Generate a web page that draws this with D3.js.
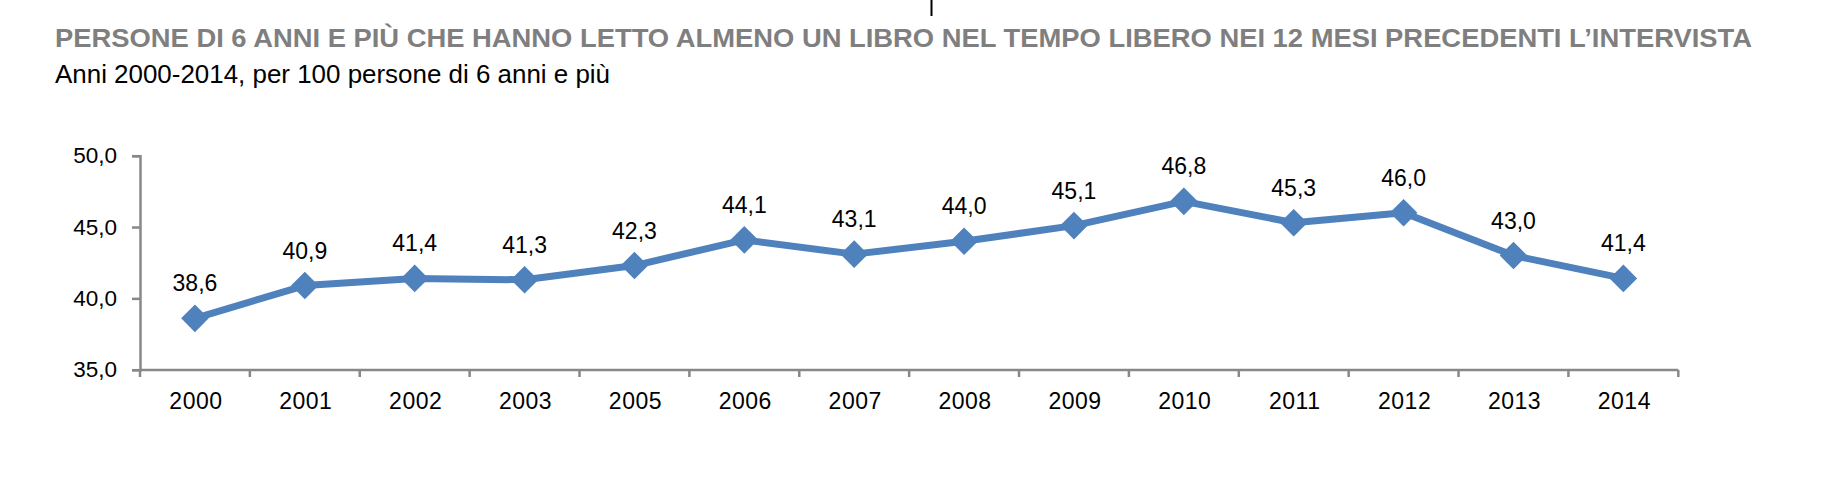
<!DOCTYPE html>
<html>
<head>
<meta charset="utf-8">
<script src="https://cdn.jsdelivr.net/npm/d3@7"></script>
<style>
  html, body { margin: 0; padding: 0; background: #fff; }
  svg { display: block; }
</style>
</head>
<body>
<svg id="chart" width="1838" height="504"></svg>
<script>
const title = "PERSONE DI 6 ANNI E PIÙ CHE HANNO LETTO ALMENO UN LIBRO NEL TEMPO LIBERO NEI 12 MESI PRECEDENTI L\u2019INTERVISTA";
const subtitle = "Anni 2000-2014, per 100 persone di 6 anni e più";
const years = ["2000","2001","2002","2003","2005","2006","2007","2008","2009","2010","2011","2012","2013","2014"];
const values = [38.6, 40.9, 41.4, 41.3, 42.3, 44.1, 43.1, 44.0, 45.1, 46.8, 45.3, 46.0, 43.0, 41.4];
const yTicks = [35, 40, 45, 50];

const fmt = v => v.toFixed(1).replace(".", ",");
const svg = d3.select("#chart");
const numFont = "'Liberation Sans', Arial, Helvetica, sans-serif";
const narrowFont = "'Liberation Sans Narrow', 'Arial Narrow', 'Liberation Sans', Arial, sans-serif";

// Titles
svg.append("text")
  .attr("x", 55).attr("y", 46.7)
  .attr("font-family", narrowFont)
  .attr("font-weight", "bold")
  .attr("font-size", 26)
  .attr("fill", "#7f7f7f")
  .attr("textLength", 1697)
  .attr("lengthAdjust", "spacingAndGlyphs")
  .text(title);

svg.append("text")
  .attr("x", 55).attr("y", 83.3)
  .attr("font-family", narrowFont)
  .attr("font-size", 25.5)
  .attr("fill", "#000")
  .attr("textLength", 555)
  .attr("lengthAdjust", "spacingAndGlyphs")
  .text(subtitle);

// small mark at top
svg.append("line")
  .attr("x1", 931.5).attr("x2", 931.5)
  .attr("y1", 0).attr("y2", 16)
  .attr("stroke", "#000").attr("stroke-width", 2);

// Scales
const x = d3.scaleBand().domain(years).range([140, 1678.3]);
const y = d3.scaleLinear().domain([35, 50]).range([369.7, 155.7]);

const axisColor = "#888888";

// Y axis
const yAxis = svg.append("g").attr("transform", "translate(140,0)")
  .call(d3.axisLeft(y).tickValues(yTicks).tickFormat(fmt).tickSize(8).tickPadding(15));
yAxis.select(".domain").attr("stroke", axisColor).attr("stroke-width", 2.5);
yAxis.selectAll(".tick line").attr("stroke", axisColor).attr("stroke-width", 2.5);
yAxis.selectAll(".tick text")
  .attr("font-family", numFont).attr("font-size", 22.5).attr("fill", "#000");

// X axis (ticks at category boundaries)
const xAxisG = svg.append("g").attr("transform", "translate(0,370)");
xAxisG.append("line")
  .attr("x1", 140).attr("x2", x.range()[1])
  .attr("stroke", axisColor).attr("stroke-width", 2.5);
const boundaries = years.map(d => x(d)).concat([x.range()[1]]);
xAxisG.selectAll("line.tk").data(boundaries).join("line")
  .attr("class", "tk")
  .attr("x1", d => d).attr("x2", d => d)
  .attr("y1", 0).attr("y2", 7)
  .attr("stroke", axisColor).attr("stroke-width", 2.5);
xAxisG.selectAll("text").data(years).join("text")
  .attr("x", d => x(d) + x.bandwidth() / 2 + 1)
  .attr("y", 39)
  .attr("text-anchor", "middle")
  .attr("font-family", numFont)
  .attr("font-size", 23)
  .attr("letter-spacing", 0.5)
  .attr("fill", "#000")
  .text(d => d);

const cx = (d, i) => x(years[i]) + x.bandwidth() / 2;
const color = "#4f81bd";

// Line
const line = d3.line().x((d, i) => cx(d, i)).y(d => y(d));
svg.append("path")
  .datum(values)
  .attr("d", line)
  .attr("fill", "none")
  .attr("stroke", color)
  .attr("stroke-width", 7)
  .attr("stroke-linejoin", "round");

// Markers (diamonds)
svg.selectAll("path.mk").data(values).join("path")
  .attr("class", "mk")
  .attr("d", d3.symbol().type(d3.symbolSquare).size(19.5 * 19.5)())
  .attr("transform", (d, i) => `translate(${cx(d, i)},${y(d)}) rotate(45)`)
  .attr("fill", color);

// Data labels
svg.selectAll("text.lbl").data(values).join("text")
  .attr("class", "lbl")
  .attr("x", (d, i) => cx(d, i))
  .attr("y", d => y(d) - 27)
  .attr("text-anchor", "middle")
  .attr("font-family", numFont)
  .attr("font-size", 23)
  .attr("fill", "#000")
  .text(d => fmt(d));
</script>
</body>
</html>
